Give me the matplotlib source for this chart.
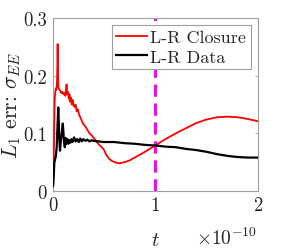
import matplotlib
matplotlib.use("Agg")
import matplotlib.pyplot as plt
import numpy as np

plt.rcParams['font.family'] = ['cmr10', 'DejaVu Serif']
plt.rcParams['mathtext.fontset'] = 'cm'
plt.rcParams['axes.unicode_minus'] = False

# time in units of 1e-10
t_closure = [0.003, 0.008, 0.013, 0.018, 0.022, 0.027, 0.033, 0.038, 0.043, 0.047, 0.050, 0.054,
             0.058, 0.065, 0.075, 0.085, 0.095, 0.105, 0.115, 0.125, 0.132, 0.137, 0.142, 0.150,
             0.158, 0.165, 0.172, 0.180, 0.188, 0.195, 0.205, 0.215, 0.225, 0.235, 0.245, 0.26,
             0.28, 0.30, 0.32, 0.34, 0.36, 0.38, 0.40, 0.42, 0.44, 0.46, 0.48, 0.50, 0.52,
             0.55, 0.58, 0.62, 0.65, 0.70, 0.75, 0.80, 0.90, 1.00, 1.10, 1.20, 1.30, 1.40,
             1.50, 1.60, 1.70, 1.80, 1.90, 2.00]
closure = [0.010, 0.030, 0.070, 0.120, 0.160, 0.172, 0.178, 0.176, 0.185, 0.215, 0.255, 0.205,
           0.180, 0.176, 0.174, 0.170, 0.172, 0.168, 0.170, 0.165, 0.175, 0.185, 0.168, 0.172,
           0.160, 0.168, 0.155, 0.162, 0.150, 0.158, 0.148, 0.146, 0.150, 0.138, 0.142, 0.132,
           0.124, 0.116, 0.112, 0.106, 0.100, 0.097, 0.092, 0.088, 0.083, 0.079, 0.076, 0.072,
           0.064, 0.056, 0.052, 0.049, 0.048, 0.050, 0.053, 0.058, 0.068, 0.079, 0.090, 0.100,
           0.109, 0.118, 0.124, 0.128, 0.129, 0.128, 0.125, 0.121]

t_data = [0.003, 0.008, 0.013, 0.018, 0.025, 0.032, 0.040, 0.048, 0.056, 0.060, 0.066, 0.073,
          0.080, 0.090, 0.100, 0.105, 0.112, 0.120, 0.128, 0.136, 0.145, 0.155, 0.165, 0.175,
          0.185, 0.195, 0.21, 0.225, 0.24, 0.255, 0.27, 0.285, 0.30, 0.32, 0.34, 0.36, 0.38,
          0.40, 0.45, 0.50, 0.60, 0.70, 0.80, 0.90, 1.00, 1.10, 1.20, 1.30, 1.40, 1.50,
          1.60, 1.70, 1.80, 1.90, 2.00]
data = [0.008, 0.012, 0.030, 0.050, 0.055, 0.060, 0.075, 0.110, 0.145, 0.125, 0.090, 0.070,
        0.085, 0.100, 0.117, 0.105, 0.085, 0.076, 0.092, 0.082, 0.090, 0.082, 0.088, 0.084,
        0.090, 0.085, 0.093, 0.086, 0.090, 0.085, 0.091, 0.086, 0.090, 0.087, 0.089, 0.086,
        0.088, 0.087, 0.086, 0.085, 0.085, 0.083, 0.082, 0.080, 0.079, 0.077, 0.076, 0.073,
        0.071, 0.068, 0.064, 0.061, 0.059, 0.058, 0.058]

t_marker = 1.0
xticks = [0, 1, 2]
yticks = [0, 0.1, 0.2, 0.3]
labels = ['L-R Closure', 'L-R Data']

fig = plt.figure(figsize=(2.86, 2.51), dpi=100)
ax = fig.add_axes([0.1836, 0.235, 0.902 - 0.1836, 0.924 - 0.235])

ax.plot(t_closure, closure, color='#ff0000', lw=1.3, label=labels[0], zorder=3)
ax.plot(t_data, data, color='#000000', lw=1.6, label=labels[1], zorder=3)
ax.axvline(t_marker, color='#ff00ff', lw=2.2, dashes=(4, 2.2), zorder=2)

ax.set_xlim(0, 2)
ax.set_ylim(0, 0.3)
ax.set_xticks(xticks)
ax.set_xticklabels(['0', '1', '2'])
ax.set_yticks(yticks)
ax.set_yticklabels(['0', '0.1', '0.2', '0.3'])
ax.tick_params(direction='in', length=2.5, width=0.6, color='#a0a0a0', labelsize=13.5,
               labelcolor='#262626', pad=4, top=False, right=True)
for s in ax.spines.values():
    s.set_color('#a0a0a0')
    s.set_linewidth(0.8)

ax.set_ylabel(r'$L_1$ err: $\sigma_{EE}$', fontsize=15.5, color='#262626', labelpad=0)
fig.text(155 / 286, 1 - 241 / 251, r'$t$', fontsize=15, color='#262626', ha='center', va='center')
fig.text(227 / 286, 1 - 238 / 251, r'$\times10^{-10}$', fontsize=14, color='#262626', ha='center', va='center')

leg = ax.legend(loc='upper right', fontsize=13, frameon=True, fancybox=False, framealpha=1,
                edgecolor='#a0a0a0', handlelength=1.7, handletextpad=0.2, borderpad=0.25,
                labelspacing=0.2, borderaxespad=0.4)
leg.get_frame().set_linewidth(0.8)
for txt in leg.get_texts():
    txt.set_color('#262626')

fig.savefig('out.png', dpi=100)
